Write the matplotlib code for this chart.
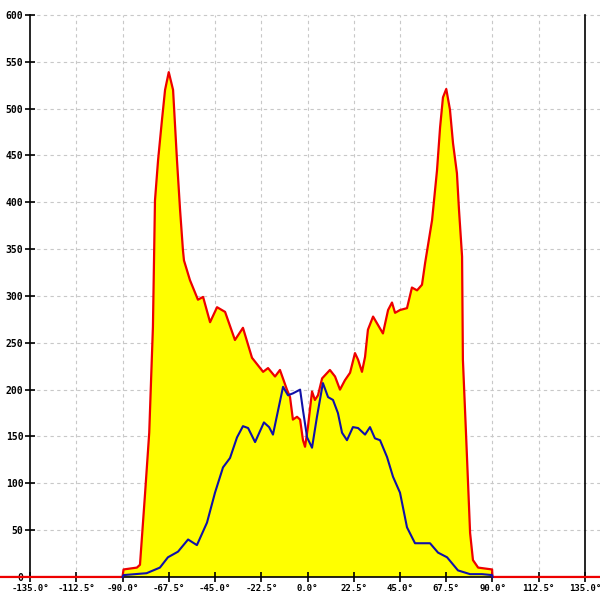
import matplotlib
matplotlib.use("Agg")
import matplotlib.pyplot as plt

# courbe rouge (remplie en jaune): angle en degrés, valeur
red_deg = [-150, -90, -89.5, -83, -81.5, -79, -77, -75.2, -74.2, -72.7, -70.8, -69.3, -67.5,
           -65.4, -63.5, -62, -60.6, -60.1, -57.2, -53.3, -50.8, -47.4, -44, -40.1, -35.3,
           -31.4, -27, -21.6, -19.2, -15.8, -13.4, -10, -8.5, -7.1, -5.1, -3.6, -2.2, -1.2,
           0.2, 2.2, 3.6, 5.1, 7.1, 10.9, 13.4, 15.8, 18.2, 20.7, 23.1, 24.6, 26.5, 28,
           29.4, 31.9, 34.3, 36.7, 39.2, 41.1, 42.6, 45, 48.4, 50.8, 53.3, 55.7, 57.2,
           60.6, 63, 64.5, 65.9, 67.5, 69.3, 70.8, 72.7, 73.7, 75.2, 75.6, 77.1, 79.1,
           80.5, 83, 89.8, 90, 143]
red_val = [0, 0, 8, 10, 13, 90, 154, 267, 402, 445, 488, 520, 539, 520, 445, 392, 349, 338,
           317, 296, 299, 272, 288, 283, 253, 266, 234, 219, 223, 214, 221, 200, 192, 168,
           171, 168, 146, 139, 160, 198, 189, 194, 212, 221, 214, 200, 210, 218, 239, 232,
           219, 235, 264, 278, 269, 260, 285, 293, 282, 285, 287, 309, 306, 312, 335, 381,
           434, 480, 512, 521, 499, 463, 431, 392, 342, 232, 154, 47, 18, 10, 8, 0, 0]

# courbe bleue
blue_deg = [-90, -89.5, -78.3, -71.8, -67.9, -63, -58.1, -53.8, -48.9, -45, -41.1, -37.7,
            -34.3, -31.4, -28.9, -25.5, -21.2, -18.7, -16.8, -11.9, -9.5, -7.1, -3.6, -2.2,
            -0.2, 2.2, 4.6, 7.5, 10, 12.4, 14.8, 16.8, 19.2, 22.1, 24.6, 28, 30.4, 32.8,
            35.3, 38.7, 41.6, 45, 48.4, 52.3, 56.2, 59.6, 63.5, 67.9, 73.2, 79.1, 84.9,
            89.8, 90]
blue_val = [0, 2, 4, 10, 21, 27, 40, 34, 58, 90, 117, 127, 149, 161, 159, 144, 165, 160,
            152, 203, 194, 196, 200, 178, 149, 138, 171, 207, 192, 189, 175, 154, 146, 160,
            159, 152, 160, 148, 146, 128, 107, 90, 53, 36, 36, 36, 26, 21, 7, 3, 3, 2, 0]

x_ticks = [-135.0, -112.5, -90.0, -67.5, -45.0, -22.5, 0.0, 22.5, 45.0, 67.5, 90.0, 112.5, 135.0]
y_ticks = list(range(0, 601, 50))

fig = plt.figure(figsize=(6, 6), dpi=100)
ax = fig.add_axes([0, 0, 1, 1])
ax.set_xlim(-149.6, 142.3)
ax.set_ylim(-24.6, 616)

# grille pointillée
ax.hlines(y_ticks[1:], -135, 142.3, colors="#c8c8c8", linestyles=(0, (3, 3)), linewidth=0.8, zorder=1)
ax.vlines(x_ticks[1:-1], 0, 600, colors="#c8c8c8", linestyles=(0, (3, 3)), linewidth=0.8, zorder=1)

ax.fill_between(red_deg, red_val, 0, color="#ffff00", zorder=1.5, linewidth=0)
ax.plot(red_deg, red_val, color="#ee0000", linewidth=1.6, zorder=3)
ax.plot(blue_deg, blue_val, color="#1010a8", linewidth=1.5, zorder=3.2)

# axes
ax.spines["top"].set_visible(False)
ax.spines["left"].set_position(("data", -135))
ax.spines["right"].set_position(("data", 135))
ax.spines["bottom"].set_position(("data", 0))
ax.spines["left"].set_bounds(0, 600)
ax.spines["right"].set_bounds(0, 600)
ax.spines["bottom"].set_bounds(-135, 135)
for s in ["left", "right", "bottom"]:
    ax.spines[s].set_linewidth(1.2)
    ax.spines[s].set_color("black")

ax.set_xticks(x_ticks)
ax.set_xticklabels([f"{v:.1f}°" for v in x_ticks], family="DejaVu Sans Mono",
                   fontsize=6.5, fontweight="bold")
ax.set_yticks(y_ticks)
ax.set_yticklabels([str(v) for v in y_ticks], family="DejaVu Sans Mono",
                   fontsize=7, fontweight="bold")
ax.tick_params(axis="both", direction="inout", length=6.5, width=1.2, pad=1.5)
ax.yaxis.set_ticks_position("left")
ax.xaxis.set_ticks_position("bottom")
ax.set_facecolor("white")

fig.savefig("out.png", dpi=100)
